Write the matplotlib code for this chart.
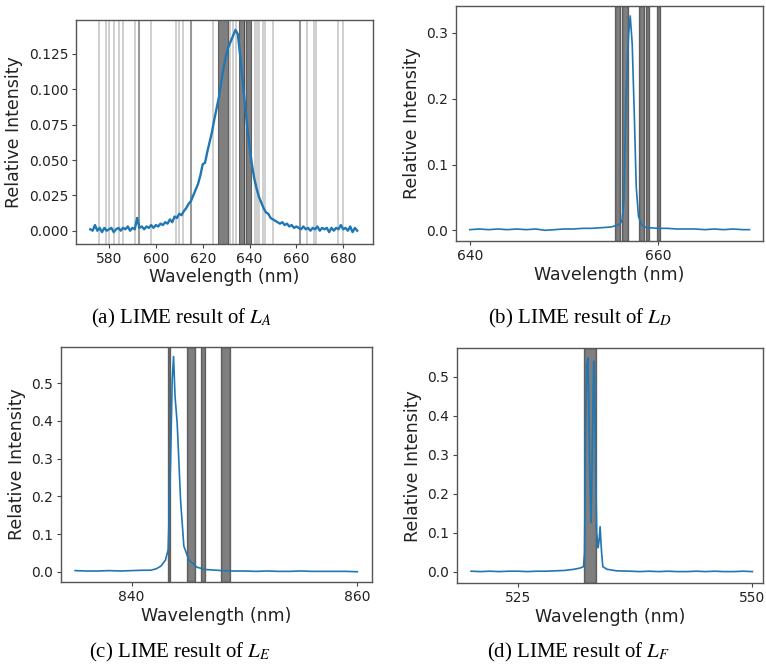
import numpy as np
import matplotlib
matplotlib.use("Agg")
import matplotlib.pyplot as plt

plt.rcParams['font.family'] = 'DejaVu Sans'
plt.rcParams['mathtext.fontset'] = 'stix'

BLUE = '#1f77b4'

# ---- (a) L_A : broad band around 634 nm
wl_a = np.arange(572, 687, 1.0)
int_a = [0.001, 0.000, 0.004, 0.000, 0.002, -0.001, 0.002, 0.000, 0.001, 0.002,
         -0.001, 0.001, 0.002, 0.000, 0.002, 0.001, 0.003, 0.000, 0.002, 0.001,
         0.009, 0.002, 0.003, 0.001, 0.003, 0.002, 0.004, 0.002, 0.004, 0.003,
         0.005, 0.004, 0.006, 0.005, 0.008, 0.006, 0.010, 0.009, 0.012, 0.011,
         0.014, 0.016, 0.019, 0.021, 0.025, 0.029, 0.033, 0.039, 0.047, 0.048,
         0.056, 0.063, 0.070, 0.079, 0.087, 0.095, 0.106, 0.116, 0.124, 0.130,
         0.134, 0.138, 0.142, 0.139, 0.124, 0.106, 0.090, 0.074, 0.060, 0.047,
         0.037, 0.030, 0.024, 0.020, 0.016, 0.013, 0.012, 0.009, 0.008, 0.007,
         0.006, 0.005, 0.006, 0.004, 0.005, 0.003, 0.004, 0.002, 0.003, 0.002,
         0.001, 0.003, 0.001, 0.002, 0.000, 0.002, 0.001, 0.003, 0.000, 0.002,
         0.001, 0.002, -0.001, 0.002, 0.000, 0.002, 0.001, 0.004, 0.001, 0.002,
         0.000, 0.003, -0.001, 0.002, 0.000]
a_light = [575.6, 578.7, 580.1, 582.0, 584.4, 585.8, 591.1, 598.1, 608.6, 610.0,
           611.5, 624.6, 631.7, 633.1, 634.2, 637.9, 642.4, 643.4, 644.2, 645.9,
           646.8, 650.0, 664.7, 667.7, 668.4, 677.7, 679.9]
a_mid = [592.7, 615.0, 661.4]
a_dark = [(626.5, 630.6), (635.6, 637.5), (638.4, 640.6)]

# ---- (b) L_D : line at 657 nm
wl_b = [640, 641, 642, 643, 644, 645, 646, 647, 648, 649, 650, 651, 652, 653,
        654, 655, 655.5, 656, 656.2, 656.4, 656.6, 656.8, 656.9, 657.06, 657.27,
        657.5, 657.7, 657.94, 658.3, 658.6, 659, 660, 661, 662, 663, 664, 665,
        666, 667, 668, 669, 669.75]
int_b = [0.001, 0.002, 0.001, 0.002, 0.001, 0.002, 0.001, 0.002, 0.000, 0.001,
         0.002, 0.002, 0.003, 0.003, 0.004, 0.005, 0.007, 0.010, 0.016, 0.046,
         0.198, 0.270, 0.300, 0.326, 0.284, 0.173, 0.066, 0.021, 0.008, 0.005,
         0.004, 0.003, 0.003, 0.002, 0.002, 0.002, 0.001, 0.002, 0.001, 0.002,
         0.001, 0.001]
b_spans = [(655.46, 655.93), (656.17, 656.78), (657.95, 658.54),
           (658.72, 659.04), (659.92, 660.18)]

# ---- (c) L_E : line at 843.7 nm
wl_c = [835, 836, 837, 838, 839, 840, 841, 841.7, 842.2, 842.6, 843.0, 843.24,
        843.45, 843.6, 843.72, 843.85, 844.04, 844.34, 844.63, 845.08, 845.8,
        846.5, 847.28, 848, 849, 850, 851, 852, 853, 854, 855, 856, 857, 858,
        859, 860]
int_c = [0.003, 0.002, 0.002, 0.003, 0.002, 0.003, 0.004, 0.004, 0.008, 0.015,
         0.031, 0.058, 0.288, 0.510, 0.571, 0.465, 0.394, 0.190, 0.068, 0.031,
         0.012, 0.006, 0.0045, 0.003, 0.002, 0.002, 0.001, 0.002, 0.001, 0.001,
         0.002, 0.001, 0.001, 0.001, 0.001, 0.000]
c_spans = [(843.21, 843.36), (844.87, 845.66), (846.19, 846.46), (847.94, 848.73)]

# ---- (d) L_F : double line near 532.5 nm
wl_d = [520, 521, 522, 523, 524, 525, 526, 527, 528, 529, 530, 531, 531.6,
        531.99, 532.1, 532.2, 532.35, 532.45, 532.55, 532.65, 532.8, 532.95,
        533.08, 533.15, 533.27, 533.4, 533.55, 533.65, 533.76, 533.9, 534.05,
        534.48, 535.5, 537, 538, 539, 540, 541, 542, 543, 544, 545, 546, 547,
        548, 549, 550]
int_d = [0.002, 0.001, 0.002, 0.001, 0.002, 0.002, 0.001, 0.002, 0.002, 0.003,
         0.004, 0.007, 0.010, 0.0136, 0.050, 0.338, 0.530, 0.548, 0.450, 0.260,
         0.126, 0.350, 0.540, 0.500, 0.295, 0.100, 0.062, 0.080, 0.116, 0.056,
         0.0136, 0.007, 0.003, 0.002, 0.001, 0.002, 0.001, 0.002, 0.001, 0.001,
         0.002, 0.001, 0.002, 0.001, 0.001, 0.002, 0.001]
d_spans = [(532.06, 533.31)]

W, H = 766, 669
fig = plt.figure(figsize=(W / 100, H / 100), dpi=100)


def box(l, t, r, b):
    return [l / W, 1 - b / H, (r - l) / W, (b - t) / H]


def style(ax, xt, yt, yfmt):
    ax.set_xticks(xt)
    ax.set_yticks(yt)
    ax.set_yticklabels([yfmt.format(v) for v in yt])
    ax.tick_params(labelsize=10, length=3, pad=2.5, color='#444444',
                   labelcolor='#222222')
    for s in ax.spines.values():
        s.set_color('#555555')
        s.set_linewidth(1.0)
    ax.set_xlabel('Wavelength (nm)', fontsize=12.5, color='#222222', labelpad=2)
    ax.set_ylabel('Relative Intensity', fontsize=12.5, color='#222222', labelpad=4)


# (a)
ax = fig.add_axes(box(76, 20, 372.7, 244))
for x in a_light:
    ax.axvline(x, color='k', alpha=0.22, lw=1.2)
for x in a_mid:
    ax.axvline(x, color='k', alpha=0.4, lw=1.5)
for lo, hi in a_dark:
    ax.axvspan(lo, hi, color='k', alpha=0.5, lw=0.8)
ax.plot(wl_a, int_a, color=BLUE, lw=1.7)
ax.set_xlim(565.9, 692.6)
ax.set_ylim(-0.0094, 0.149)
style(ax, [580, 600, 620, 640, 660, 680], [0, 0.025, 0.05, 0.075, 0.1, 0.125], '{:.3f}')

# (b)
ax = fig.add_axes(box(455.7, 5.7, 762.7, 241.3))
for lo, hi in b_spans:
    ax.axvspan(lo, hi, color='k', alpha=0.5, lw=1)
ax.plot(wl_b, int_b, color=BLUE, lw=1.2)
ax.set_xlim(638.5, 671.15)
ax.set_ylim(-0.0167, 0.3415)
style(ax, [640, 660], [0, 0.1, 0.2, 0.3], '{:.1f}')

# (c)
ax = fig.add_axes(box(61, 346.7, 371.5, 582.3))
for lo, hi in c_spans:
    ax.axvspan(lo, hi, color='k', alpha=0.5, lw=1)
ax.plot(wl_c, int_c, color=BLUE, lw=1.2)
ax.set_xlim(833.75, 861.25)
ax.set_ylim(-0.028, 0.597)
style(ax, [840, 860], [0, 0.1, 0.2, 0.3, 0.4, 0.5], '{:.1f}')

# (d)
ax = fig.add_axes(box(457, 348.3, 762.7, 583.3))
for lo, hi in d_spans:
    ax.axvspan(lo, hi, color='k', alpha=0.5, lw=1)
ax.plot(wl_d, int_d, color=BLUE, lw=1.2)
ax.set_xlim(518.5, 551.1)
ax.set_ylim(-0.029, 0.573)
style(ax, [525, 550], [0, 0.1, 0.2, 0.3, 0.4, 0.5], '{:.1f}')

captions = [(181, 318, r'(a) LIME result of $L_A$'),
            (580, 318, r'(b) LIME result of $L_D$'),
            (180, 652, r'(c) LIME result of $L_E$'),
            (579, 652, r'(d) LIME result of $L_F$')]
for cx, cy, txt in captions:
    fig.text(cx / W, 1 - cy / H, txt, ha='center', va='center',
             fontsize=15, family='Liberation Serif', color='black')

fig.savefig('out.png', dpi=100)
